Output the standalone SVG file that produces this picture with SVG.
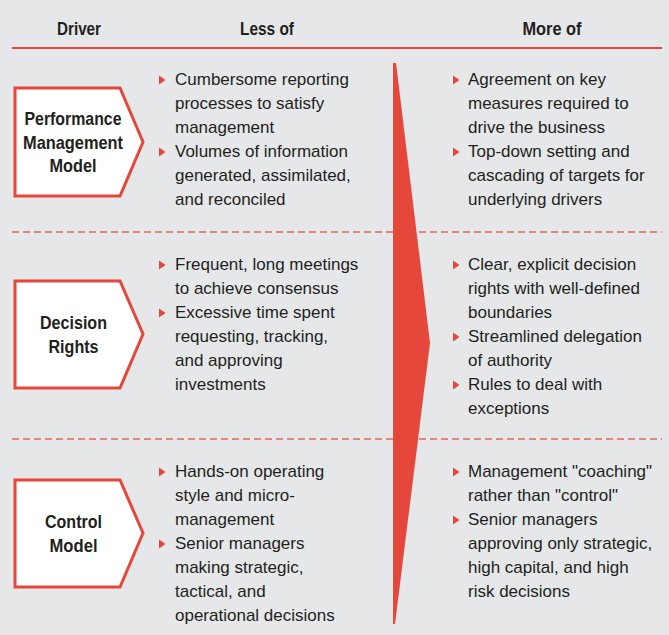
<svg xmlns="http://www.w3.org/2000/svg" xmlns:xlink="http://www.w3.org/1999/xlink" width="669" height="635" viewBox="0 0 669 635">
<defs>
<style>
.hdr{font-family:"Liberation Sans",Arial,sans-serif;font-weight:bold;font-size:18.5px;fill:#231f20;text-anchor:middle}
.lbl{font-family:"Liberation Sans",Arial,sans-serif;font-weight:bold;font-size:19px;fill:#231f20;text-anchor:middle}
.txt{font-family:"Liberation Sans",Arial,sans-serif;font-size:17px;fill:#231f20}
.box{fill:#ffffff;stroke:#e5473a;stroke-width:3}
.dash{stroke:#e8645a;stroke-width:1.6;stroke-dasharray:7 4;fill:none}
.bul{fill:#e5473a}
</style>
<path id="b" d="M0,-4.5 L6.5,0 L0,4.5 Z"/>
</defs>
<rect width="669" height="635" fill="#e6e7e9"/>

<g id="header">
<text class="hdr" x="79" y="35" textLength="44" lengthAdjust="spacingAndGlyphs">Driver</text>
<text class="hdr" x="267" y="35" textLength="54" lengthAdjust="spacingAndGlyphs">Less of</text>
<text class="hdr" x="552" y="35" textLength="59" lengthAdjust="spacingAndGlyphs">More of</text>
</g>

<g id="connectors">
<line x1="12" y1="48" x2="662" y2="48" stroke="#e5473a" stroke-width="2"/>
<line class="dash" x1="12" y1="232" x2="662" y2="232"/>
<line class="dash" x1="12" y1="439" x2="662" y2="439"/>
<polygon id="big-arrow" points="393,63 396,63 430,343 395,624 393,624" fill="#e5473a"/>
</g>

<g id="node-performance">
<polygon class="box" points="15,88 120,88 143,142 120,196 15,196"/>
<text class="lbl" x="73" y="125" textLength="97" lengthAdjust="spacingAndGlyphs">Performance</text>
<text class="lbl" x="73" y="148.5" textLength="100" lengthAdjust="spacingAndGlyphs">Management</text>
<text class="lbl" x="73" y="172" textLength="47" lengthAdjust="spacingAndGlyphs">Model</text>
</g>

<g id="node-decision">
<polygon class="box" points="15,281 120,281 143,334 120,388 15,388"/>
<text class="lbl" x="73.5" y="329" textLength="67" lengthAdjust="spacingAndGlyphs">Decision</text>
<text class="lbl" x="73.5" y="353" textLength="50" lengthAdjust="spacingAndGlyphs">Rights</text>
</g>

<g id="node-control">
<polygon class="box" points="15,480 120,480 143,533 120,587 15,587"/>
<text class="lbl" x="73.5" y="528" textLength="57" lengthAdjust="spacingAndGlyphs">Control</text>
<text class="lbl" x="73.5" y="552" textLength="48" lengthAdjust="spacingAndGlyphs">Model</text>
</g>

<g id="less-performance">
<use xlink:href="#b" class="bul" x="159" y="80"/>
<use xlink:href="#b" class="bul" x="159" y="152"/>
<text class="txt" x="175" y="85">Cumbersome reporting</text>
<text class="txt" x="175" y="109">processes to satisfy</text>
<text class="txt" x="175" y="133">management</text>
<text class="txt" x="175" y="157">Volumes of information</text>
<text class="txt" x="175" y="181">generated, assimilated,</text>
<text class="txt" x="175" y="205">and reconciled</text>
</g>

<g id="more-performance">
<use xlink:href="#b" class="bul" x="453" y="80"/>
<use xlink:href="#b" class="bul" x="453" y="152"/>
<text class="txt" x="468" y="85">Agreement on key</text>
<text class="txt" x="468" y="109">measures required to</text>
<text class="txt" x="468" y="133">drive the business</text>
<text class="txt" x="468" y="157">Top-down setting and</text>
<text class="txt" x="468" y="181">cascading of targets for</text>
<text class="txt" x="468" y="205">underlying drivers</text>
</g>

<g id="less-decision">
<use xlink:href="#b" class="bul" x="159" y="265"/>
<use xlink:href="#b" class="bul" x="159" y="313"/>
<text class="txt" x="175" y="270">Frequent, long meetings</text>
<text class="txt" x="175" y="294">to achieve consensus</text>
<text class="txt" x="175" y="318">Excessive time spent</text>
<text class="txt" x="175" y="342">requesting, tracking,</text>
<text class="txt" x="175" y="366">and approving</text>
<text class="txt" x="175" y="390">investments</text>
</g>

<g id="more-decision">
<use xlink:href="#b" class="bul" x="453" y="265"/>
<use xlink:href="#b" class="bul" x="453" y="337"/>
<use xlink:href="#b" class="bul" x="453" y="385"/>
<text class="txt" x="468" y="270">Clear, explicit decision</text>
<text class="txt" x="468" y="294">rights with well-defined</text>
<text class="txt" x="468" y="318">boundaries</text>
<text class="txt" x="468" y="342">Streamlined delegation</text>
<text class="txt" x="468" y="366">of authority</text>
<text class="txt" x="468" y="390">Rules to deal with</text>
<text class="txt" x="468" y="414">exceptions</text>
</g>

<g id="less-control">
<use xlink:href="#b" class="bul" x="159" y="472"/>
<use xlink:href="#b" class="bul" x="159" y="544"/>
<text class="txt" x="175" y="477">Hands-on operating</text>
<text class="txt" x="175" y="501">style and micro-</text>
<text class="txt" x="175" y="525">management</text>
<text class="txt" x="175" y="549">Senior managers</text>
<text class="txt" x="175" y="573">making strategic,</text>
<text class="txt" x="175" y="597">tactical, and</text>
<text class="txt" x="175" y="621">operational decisions</text>
</g>

<g id="more-control">
<use xlink:href="#b" class="bul" x="453" y="472"/>
<use xlink:href="#b" class="bul" x="453" y="520"/>
<text class="txt" x="468" y="477">Management "coaching"</text>
<text class="txt" x="468" y="501">rather than "control"</text>
<text class="txt" x="468" y="525">Senior managers</text>
<text class="txt" x="468" y="549">approving only strategic,</text>
<text class="txt" x="468" y="573">high capital, and high</text>
<text class="txt" x="468" y="597">risk decisions</text>
</g>
</svg>
